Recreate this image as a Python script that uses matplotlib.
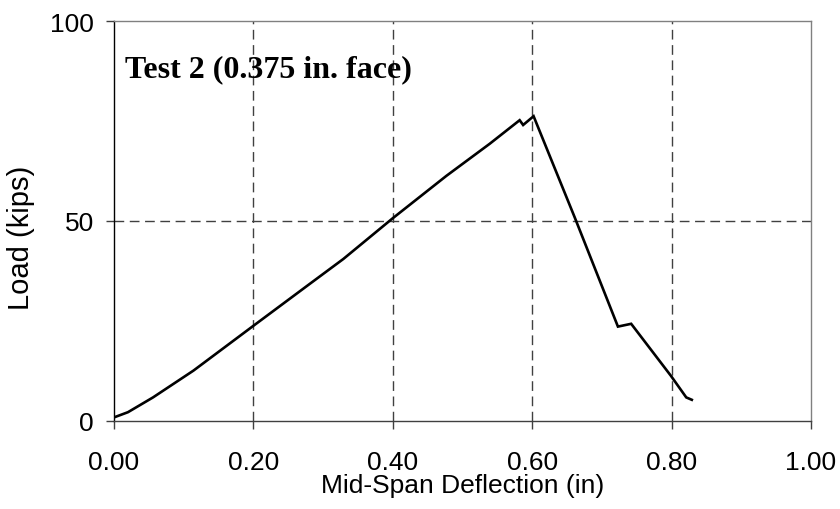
import matplotlib.pyplot as plt

# mid-span deflection (in) and load (kips)
deflection = [0.000, 0.020, 0.056, 0.114, 0.200, 0.281, 0.329, 0.400, 0.477,
              0.539, 0.582, 0.587, 0.602, 0.661, 0.723, 0.742, 0.799, 0.821, 0.829]
load = [0.9, 2.2, 5.9, 12.6, 23.8, 34.3, 40.5, 50.7, 61.3,
        69.3, 75.2, 74.0, 76.2, 50.9, 23.6, 24.3, 11.3, 5.9, 5.3]

x_ticks = [0.0, 0.2, 0.4, 0.6, 0.8, 1.0]
x_ticklabels = ['0.00', '0.20', '0.40', '0.60', '0.80', '1.00']
y_ticks = [0, 50, 100]

plt.rcParams['font.family'] = ['Liberation Sans', 'DejaVu Sans']

fig = plt.figure(figsize=(8.4, 5.1), dpi=100)
ax = fig.add_axes([114 / 840, 1 - 422 / 510, 697 / 840, 400 / 510])

# dashed grid at the inner tick positions only
for gx in x_ticks[1:-1]:
  ax.axvline(gx, color='#404040', lw=1, ls=(0, (7, 4)), zorder=1)
ax.axhline(50, color='#404040', lw=1, ls=(0, (7, 4)), zorder=1)

ax.plot(deflection, load, color='black', lw=1.9, zorder=3, solid_joinstyle='miter')

ax.set_xlim(0, 1)
ax.set_ylim(0, 100)
ax.set_xticks(x_ticks)
ax.set_xticklabels(x_ticklabels)
ax.set_yticks(y_ticks)
ax.tick_params(axis='x', direction='out', length=6, width=1, color='#404040',
               labelsize=19, pad=15)
ax.tick_params(axis='y', direction='out', length=5.5, width=1, color='#404040',
               labelsize=19, pad=9)

ax.spines['left'].set_color('black')
ax.spines['bottom'].set_color('#404040')
ax.spines['top'].set_color('#808080')
ax.spines['right'].set_color('#808080')
for s in ax.spines.values():
  s.set_linewidth(1)

ax.set_xlabel('Mid-Span Deflection (in)', fontsize=19, labelpad=-1)
ax.set_ylabel('Load (kips)', fontsize=21)
ax.yaxis.set_label_coords(-0.113, 0.46)

ax.text(0.016, 86.3, 'Test 2 (0.375 in. face)', fontsize=23, fontweight='bold',
        family=['Liberation Serif', 'DejaVu Serif'], va='baseline', ha='left', zorder=4)

fig.savefig('out.png', dpi=100)
